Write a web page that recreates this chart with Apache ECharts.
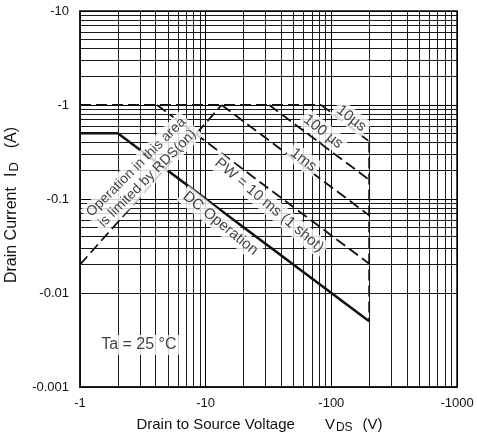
<!DOCTYPE html>
<html>
<head>
<meta charset="utf-8">
<script src="https://cdn.jsdelivr.net/npm/echarts@6/dist/echarts.min.js"></script>
<style>
  html, body { margin: 0; padding: 0; background: #fff; }
  #chart { width: 477px; height: 439px; }
</style>
</head>
<body>
<div id="chart"></div>
<script>
// axis ranges (magnitudes, drawn with a minus sign)
const vdsRange = [1, 1000];
const idRange = [0.001, 10];
const decadesV = [1, 10, 100];
const decadesI = [0.001, 0.01, 0.1, 1];
const minorSteps = [2, 3, 4, 5, 6, 7, 8, 9];

// limit lines, [VDS, ID] as magnitudes
const idPulseLine = [[1, 1], [83, 1]];
const rdsLine = [[1, 0.02], [13.4, 1]];
const pw10us = [[83, 1], [200, 0.41]];
const pw100us = [[32, 1], [200, 0.16]];
const pw1ms = [[13.4, 1], [200, 0.067]];
const pw10ms = [[4.1, 1], [200, 0.0205]];
const vdssLine = [[200, 0.41], [200, 0.005]];
const dcLine = [[1, 0.5], [2, 0.5], [200, 0.005]];

const FONT = 'Liberation Sans, Arial, Helvetica, sans-serif';
const INK = '#111';

const gridV = [];
decadesV.forEach(d => minorSteps.forEach(m => gridV.push(+(d * m).toPrecision(3))));
const gridI = [];
decadesI.forEach(d => minorSteps.forEach(m => gridI.push(+(d * m).toPrecision(3))));

const fmt = v => '-' + (+Number(v).toPrecision(3));

function limitSeries(name, data, dashed, width) {
  return {
    type: 'line',
    name: name,
    data: data,
    symbol: 'none',
    z: 4,
    lineStyle: { color: INK, width: width || 1.8, type: dashed ? [11, 5] : 'solid' },
  };
}

const notes = [
  { value: [144, 0.72], text: '10µs', rotate: -38, size: 15 },
  { value: [86, 0.52], text: '100 µs', rotate: -38, size: 15 },
  { value: [60, 0.26], text: '1ms', rotate: -38, size: 15 },
  { value: [32, 0.086], text: 'PW = 10 ms (1 shot)', rotate: -40, size: 15 },
  { value: [13.1, 0.055], text: 'DC Operation', rotate: -39, size: 15 },
  { value: [3.1, 0.19], text: 'Operation in this area\nis limited by RDS(on)', rotate: 45, size: 14 },
  { value: [2.94, 0.0028], text: 'Ta = 25 °C', rotate: 0, size: 16 },
];

const nameRich = size => ({
  a: { fontFamily: FONT, fontSize: size, color: INK, lineHeight: 18 },
  v: { fontFamily: FONT, fontSize: size, color: INK, lineHeight: 18, padding: [0, 0, 0, 30] },
  s: { fontFamily: FONT, fontSize: size - 3, color: INK, lineHeight: 18, padding: [7, 0, 0, 1] },
  u: { fontFamily: FONT, fontSize: size, color: INK, lineHeight: 18, padding: [0, 18, 0, 10] },
});

const chart = echarts.init(document.getElementById('chart'), null, { renderer: 'canvas' });
chart.setOption({
  animation: false,
  backgroundColor: '#fff',
  grid: {
    left: 80, top: 11, width: 377, height: 376,
    containLabel: false, outerBoundsMode: 'none',
    show: true, borderColor: INK, borderWidth: 1.5,
  },
  xAxis: {
    type: 'log',
    logBase: 10,
    min: vdsRange[0],
    max: vdsRange[1],
    splitNumber: 3,
    name: '{a|Drain to Source Voltage}{v|V}{s|DS}{u|(V)}',
    nameLocation: 'middle',
    nameGap: 28,
    nameTextStyle: { rich: nameRich(15) },
    axisLine: { lineStyle: { color: INK, width: 1.5 } },
    axisTick: { show: false },
    axisLabel: { formatter: fmt, fontFamily: FONT, fontSize: 13, color: INK, margin: 10 },
    splitLine: { show: true, lineStyle: { color: '#000', width: 1 } },
  },
  yAxis: {
    type: 'log',
    logBase: 10,
    min: idRange[0],
    max: idRange[1],
    splitNumber: 4,
    name: '{a|Drain Current}{v|I}{s|D}{u|(A)}',
    nameLocation: 'middle',
    nameGap: 53,
    nameTextStyle: {
      rich: Object.assign(nameRich(16), {
        v: { fontFamily: FONT, fontSize: 16, color: INK, lineHeight: 18, padding: [0, 0, 0, 10] },
        u: { fontFamily: FONT, fontSize: 16, color: INK, lineHeight: 18, padding: [0, 12, 0, 14] },
      }),
    },
    axisLine: { lineStyle: { color: INK, width: 1.5 } },
    axisTick: { show: false },
    axisLabel: { formatter: fmt, fontFamily: FONT, fontSize: 13, color: INK, margin: 11 },
    splitLine: { show: true, lineStyle: { color: '#000', width: 1 } },
  },
  series: [
    {
      type: 'line',
      name: 'grid',
      data: [],
      silent: true,
      z: 1,
      markLine: {
        silent: true,
        symbol: 'none',
        z: 1,
        label: { show: false },
        lineStyle: { color: '#1a1a1a', width: 1, type: 'solid' },
        data: gridV.map(v => ({ xAxis: v })).concat(gridI.map(v => ({ yAxis: v }))),
      },
    },
    limitSeries('ID pulse', idPulseLine, true),
    limitSeries('RDS(on)', rdsLine, true),
    limitSeries('10us', pw10us, true),
    limitSeries('100us', pw100us, true),
    limitSeries('1ms', pw1ms, true),
    limitSeries('10ms', pw10ms, true),
    limitSeries('VDSS', vdssLine, true),
    limitSeries('DC', dcLine, false, 2.6),
    {
      type: 'scatter',
      name: 'notes',
      symbolSize: 0,
      z: 10,
      silent: true,
      data: notes.map(n => ({
        value: n.value,
        label: {
          show: true,
          position: 'inside',
          formatter: n.text,
          rotate: n.rotate,
          fontFamily: FONT,
          fontSize: n.size,
          lineHeight: n.size + 2,
          color: INK,
          backgroundColor: '#fff',
          padding: [1, 3],
        },
      })),
    },
  ],
});
</script>
</body>
</html>
